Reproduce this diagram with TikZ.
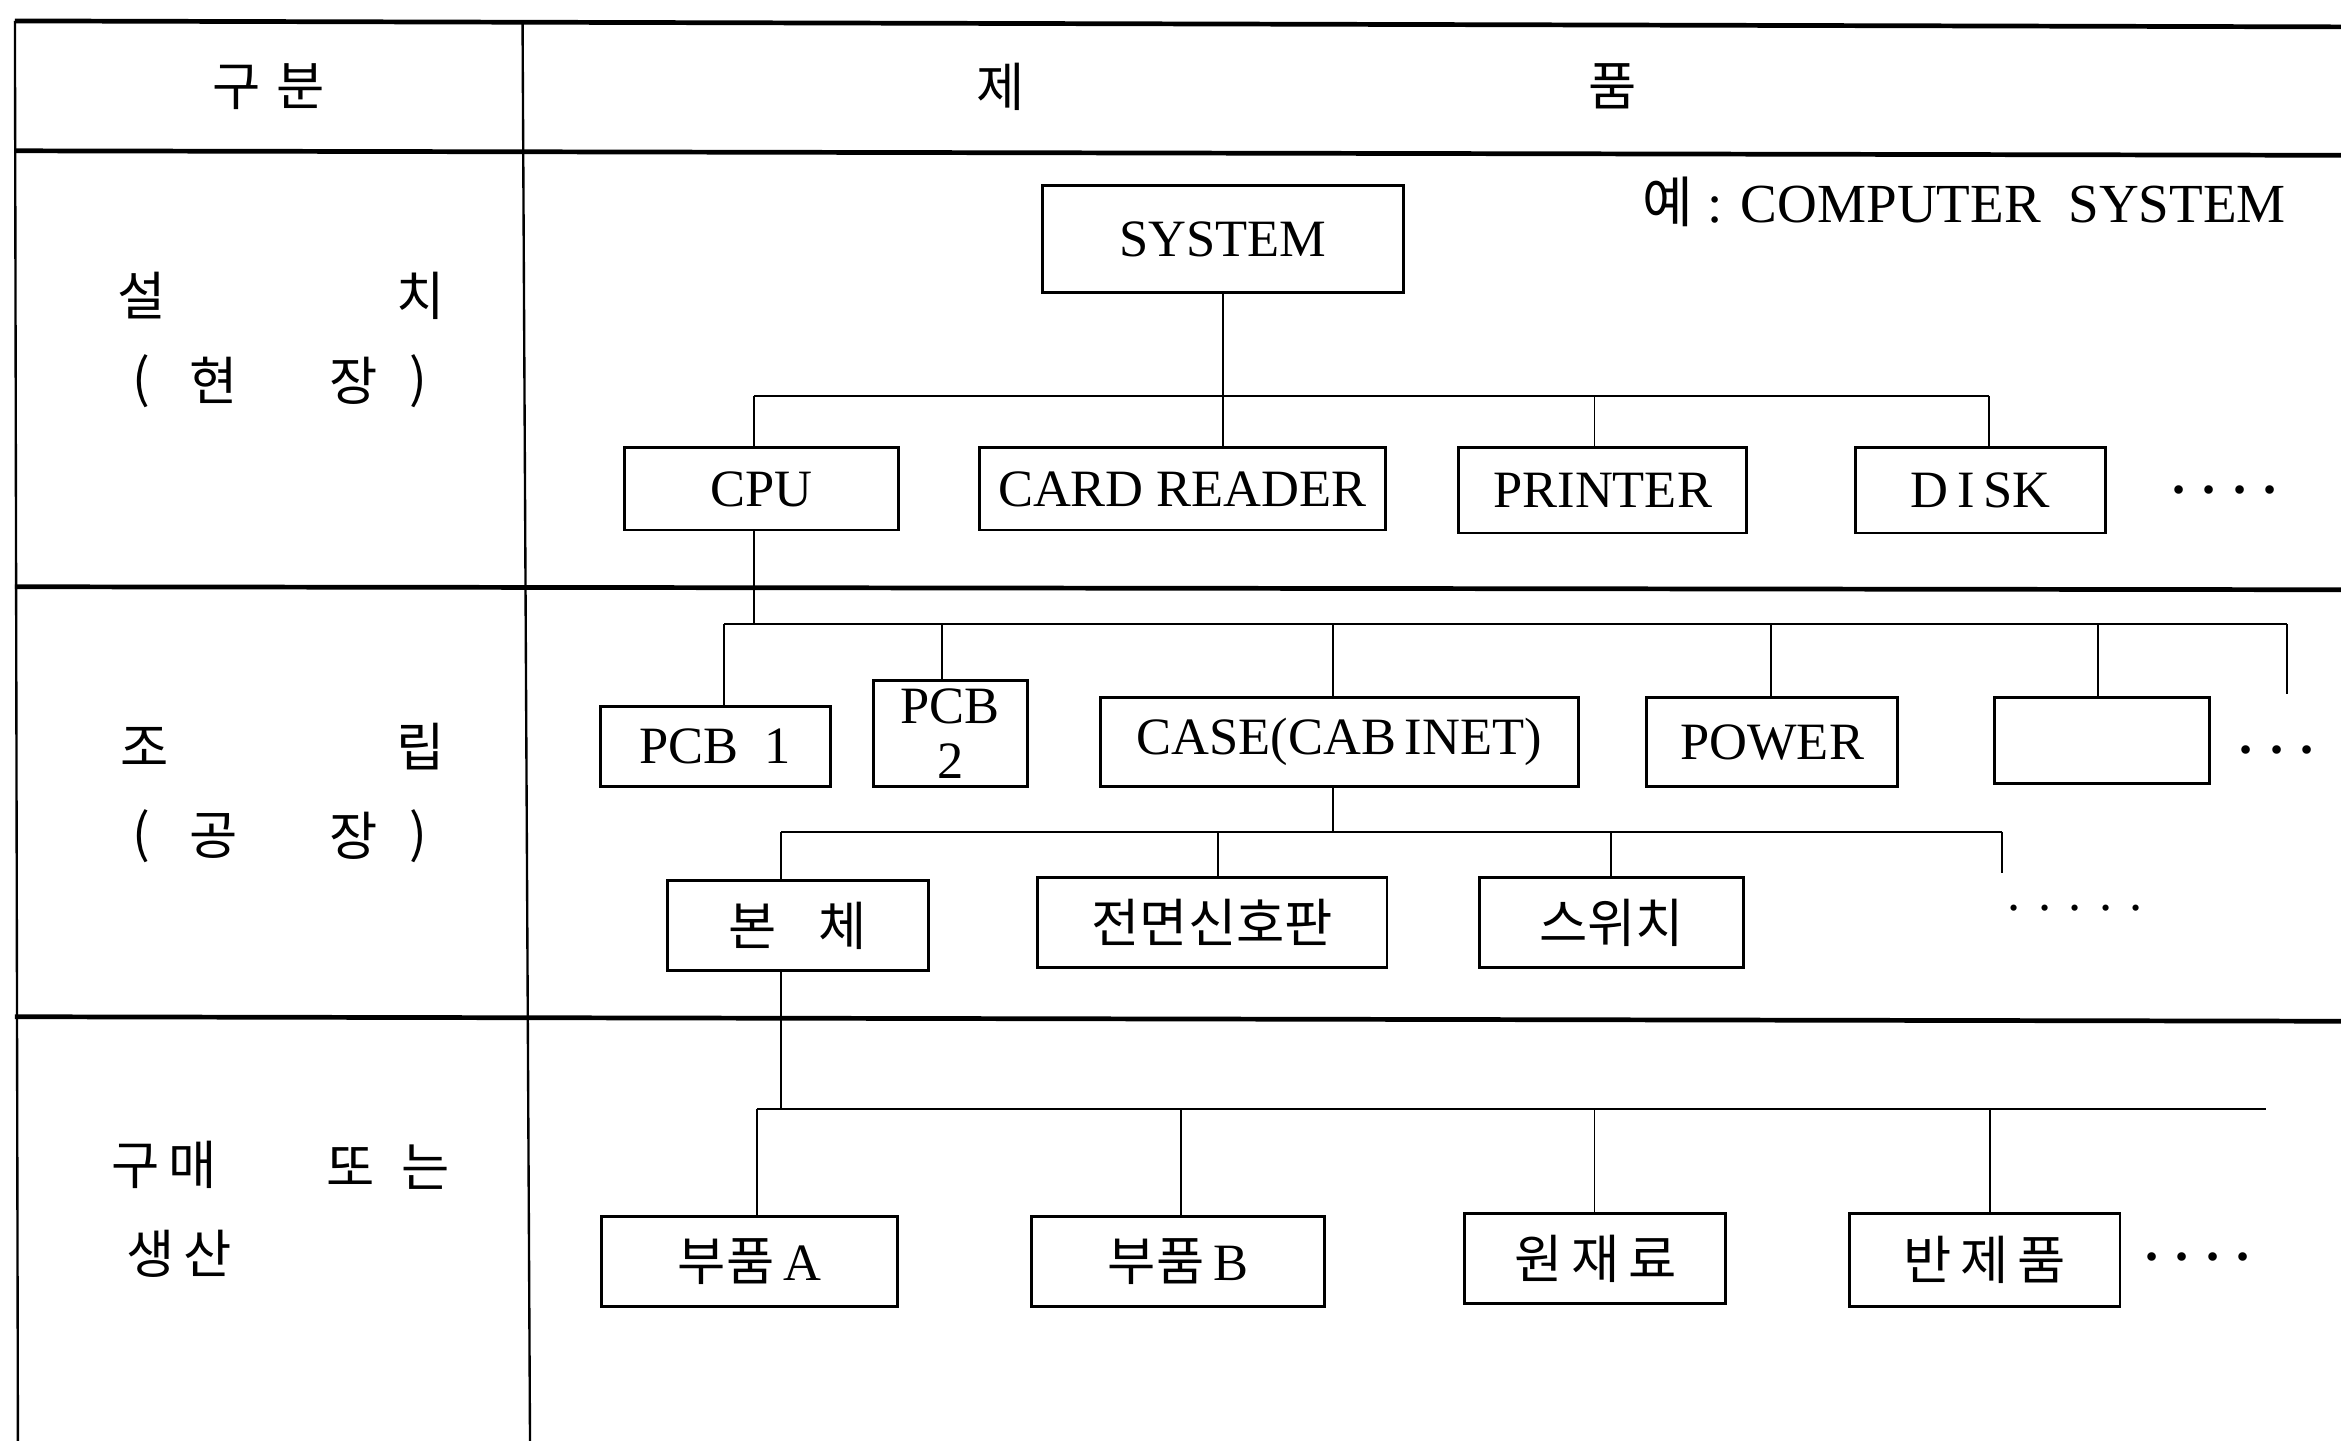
\documentclass[tikz,border=0pt]{standalone}
\usepackage{fontspec}
\setmainfont{Liberation Serif}
\newfontfamily\kr{Noto Sans CJK KR}
\begin{document}
\begin{tikzpicture}[x=0.02cm,y=-0.02cm,
  box/.style={draw, line width=1.1pt, inner sep=0pt, align=center, font=\fontsize{20}{21}\selectfont},
  kbox/.style={box, font=\kr\fontsize{20}{22}\selectfont},
  wire/.style={line width=0.7pt},
  rule/.style={line width=1.8pt},
  vrule/.style={line width=0.9pt},
  lab/.style={inner sep=0pt, font=\kr\fontsize{20}{22}\selectfont},
  dots/.style={inner sep=0pt, font=\bfseries\fontsize{20}{22}\selectfont}]
\useasboundingbox (0,0) rectangle (1568,965);
% table
\draw[rule] (10,14) -- (1568,18);
\draw[rule] (10,101) -- (1568,104);
\draw[rule] (10,393) -- (1568,395);
\draw[rule] (10,681) -- (1568,684);
\draw[vrule] (10,14) -- (12,965);
\draw[vrule] (350,14) -- (355,965);
% header
\node[lab] (h1) at (180,58) {구\hspace{0.3em}분};
\node[lab] (h2) at (670,58) {제};
\node[lab] (h3) at (1080,58) {품};
% left labels
\node[lab] (l1a) at (95,198) {설};
\node[lab] (l1b) at (282,198) {치};
\node[lab] (l1c) at (95,255) {(};
\node[lab] (l1d) at (143,255) {현};
\node[lab] (l1e) at (237,255) {장};
\node[lab] (l1f) at (280,255) {)};
\node[lab] (l2a) at (97,500) {조};
\node[lab] (l2b) at (282,500) {립};
\node[lab] (l2c) at (95,560) {(};
\node[lab] (l2d) at (143,560) {공};
\node[lab] (l2e) at (237,560) {장};
\node[lab] (l2f) at (280,560) {)};
\node[lab] (l3a) at (110,780) {구\,매};
\node[lab] (l3b) at (260,782) {또\hspace{0.5em}는};
\node[lab] (l3c) at (120,840) {생\,산};
% example note
\node[inner sep=0pt, anchor=west, font=\fontsize{21}{23}\selectfont] (note) at (1100,135) {{\kr 예} : COMPUTER\ \ SYSTEM};
% level 1
\node[box, minimum width=4.84cm, minimum height=1.44cm] (sys) at (819,160) {SYSTEM};
\node[box, minimum width=3.68cm, minimum height=1.10cm] (cpu) at (510,327.5) {CPU};
\node[box, minimum width=5.44cm, minimum height=1.10cm] (card) at (792,327.5) {CARD READER};
\node[box, minimum width=3.86cm, minimum height=1.14cm] (printer) at (1073.5,328.5) {PRINTER};
\node[box, minimum width=3.34cm, minimum height=1.14cm] (disk) at (1326.5,328.5) {D\,I\,SK};
\node[dots] (dots1) at (1490,328) {. . . .};
% level 2
\node[box, minimum width=3.08cm, minimum height=1.08cm] (pcb1) at (479,500) {PCB\enspace 1};
\node[box, minimum width=2.06cm, minimum height=1.42cm] (pcb2) at (636.5,491.5) {PCB\\2};
\node[box, minimum width=6.40cm, minimum height=1.20cm] (case) at (897,497) {CASE(CAB\,INET)};
\node[box, minimum width=3.36cm, minimum height=1.20cm] (power) at (1187,497) {POWER};
\node[box, minimum width=2.88cm, minimum height=1.16cm] (blank) at (1408,496) {};
\node[dots] (dots2) at (1525,502) {. . .};
% level 3
\node[kbox, minimum width=3.50cm, minimum height=1.20cm] (body) at (534.5,620) {본\hspace{0.8em}체};
\node[kbox, minimum width=4.68cm, minimum height=1.20cm] (panel) at (812,618) {전면신호판};
\node[kbox, minimum width=3.54cm, minimum height=1.20cm] (switch) at (1079.5,618) {스위치};
\node[dots, font=\fontsize{20}{22}\selectfont] (dots3) at (1390,608) {. . . . .};
% level 4
\node[kbox, minimum width=3.96cm, minimum height=1.20cm] (pa) at (502,845) {부품\,{\rmfamily\fontsize{20}{21}\selectfont A}};
\node[kbox, minimum width=3.92cm, minimum height=1.20cm] (pb) at (789,845) {부품\,{\rmfamily\fontsize{20}{21}\selectfont B}};
\node[kbox, minimum width=3.50cm, minimum height=1.20cm] (raw) at (1068.5,843) {원\,재\,료};
\node[kbox, minimum width=3.62cm, minimum height=1.24cm] (semi) at (1329.5,844) {반\,제\,품};
\node[dots] (dots4) at (1472,842) {. . . .};
% connectors level 1
\coordinate (b1l) at (505,265);
\coordinate (b1r) at (1332,265);
\coordinate (b1p) at (1068,265);
\draw[wire] (sys.south) -- (sys.south |- card.north);
\draw[wire] (b1l) -- (b1r);
\draw[wire] (b1l) -- (b1l |- cpu.north);
\draw[wire] (b1p) -- (b1p |- printer.north);
\draw[wire] (b1r) -- (b1r |- disk.north);
% connectors level 2
\coordinate (b2c) at (505,418);
\coordinate (b2l) at (485,418);
\coordinate (b2a) at (631,418);
\coordinate (b2b) at (893,418);
\coordinate (b2d) at (1186,418);
\coordinate (b2e) at (1405,418);
\coordinate (b2r) at (1532,418);
\coordinate (b2end) at (1532,465);
\draw[wire] (b2c |- cpu.south) -- (b2c);
\draw[wire] (b2l) -- (b2r);
\draw[wire] (b2l) -- (b2l |- pcb1.north);
\draw[wire] (b2a) -- (b2a |- pcb2.north);
\draw[wire] (b2b) -- (b2b |- case.north);
\draw[wire] (b2d) -- (b2d |- power.north);
\draw[wire] (b2e) -- (b2e |- blank.north);
\draw[wire] (b2r) -- (b2end);
% connectors level 3
\coordinate (b3c) at (893,557);
\coordinate (b3l) at (523,557);
\coordinate (b3a) at (816,557);
\coordinate (b3b) at (1079,557);
\coordinate (b3r) at (1341,557);
\coordinate (b3end) at (1341,585);
\draw[wire] (b3c |- case.south) -- (b3c);
\draw[wire] (b3l) -- (b3r);
\draw[wire] (b3l) -- (b3l |- body.north);
\draw[wire] (b3a) -- (b3a |- panel.north);
\draw[wire] (b3b) -- (b3b |- switch.north);
\draw[wire] (b3r) -- (b3end);
% connectors level 4
\coordinate (b4c) at (523,743);
\coordinate (b4l) at (507,743);
\coordinate (b4a) at (791,743);
\coordinate (b4b) at (1068,743);
\coordinate (b4d) at (1333,743);
\coordinate (b4r) at (1518,743);
\draw[wire] (b4c |- body.south) -- (b4c);
\draw[wire] (b4l) -- (b4r);
\draw[wire] (b4l) -- (b4l |- pa.north);
\draw[wire] (b4a) -- (b4a |- pb.north);
\draw[wire] (b4b) -- (b4b |- raw.north);
\draw[wire] (b4d) -- (b4d |- semi.north);
\end{tikzpicture}
\end{document}
